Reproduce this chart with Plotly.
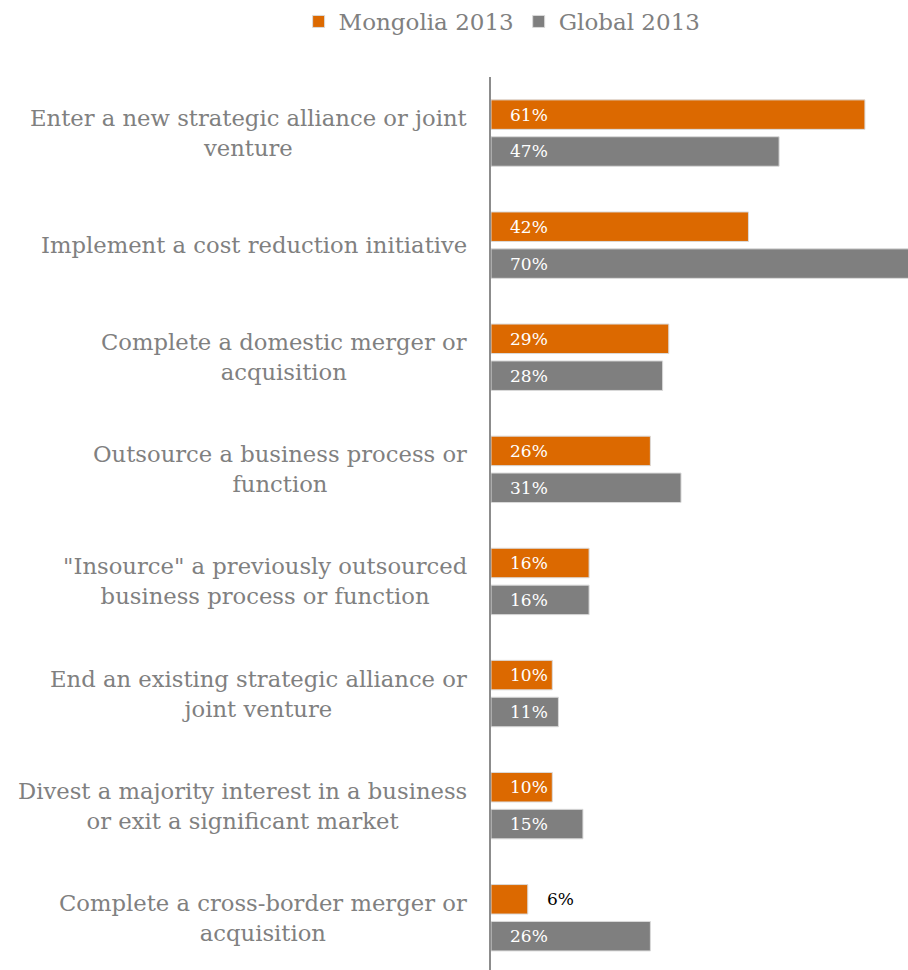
import plotly.graph_objects as go

# Survey: planned restructuring activities, Mongolia vs global CEOs
categories = [
    "Enter a new strategic alliance or joint<br>venture",
    "Implement a cost reduction initiative",
    "Complete a domestic merger or<br>acquisition",
    "Outsource a business process or<br>function",
    "\"Insource\" a previously outsourced<br>business process or function",
    "End an existing strategic alliance or<br>joint venture",
    "Divest a majority interest in a business<br>or exit a significant market",
    "Complete a cross-border merger or<br>acquisition",
]
mongolia_2013 = [61, 42, 29, 26, 16, 10, 10, 6]
global_2013 = [47, 70, 28, 31, 16, 11, 15, 26]
series_names = ["Mongolia 2013", "Global 2013"]

ORANGE = "#DC6900"
GREY = "#7F7F7F"
TEXT_GREY = "#808080"
FONT = "DejaVu Serif"

W, H = 908, 970
LEFT, TOP = 491, 77
BARGAP, GROUPGAP = 0.342, 0.2
STEP_PX = 112.1

pos = list(range(len(categories)))
y_span = (H - TOP) / STEP_PX
x_max = (W - LEFT) / 6.13

fig = go.Figure()
for name, vals, col in [(series_names[0], mongolia_2013, ORANGE),
                        (series_names[1], global_2013, GREY)]:
    fig.add_trace(go.Bar(
        name=name, x=vals, y=pos, orientation="h",
        marker=dict(color=col, line=dict(color="#DADADA", width=1)),
        hoverinfo="skip",
    ))

# value labels placed just inside the start of each bar
slot = (1 - BARGAP) / 2
annotations = []
for k, vals in enumerate([mongolia_2013, global_2013]):
    off = -slot / 2 if k == 0 else slot / 2
    for i, v in enumerate(vals):
        small = v < 8
        annotations.append(dict(
            x=v if small else 0, y=i + off, xref="x", yref="y",
            text=f"{v}%", showarrow=False, xanchor="left", yanchor="middle",
            xshift=17,
            font=dict(family=FONT, size=17, color="#000000" if small else "#FFFFFF"),
        ))

# category labels, centred text block right-aligned against the axis
for i, c in enumerate(categories):
    annotations.append(dict(
        x=0, y=i, xref="paper", yref="y", text=c, showarrow=False,
        xanchor="right", yanchor="middle", align="center", xshift=-22,
        font=dict(family=FONT, size=22.7, color=TEXT_GREY),
    ))

fig.update_layout(
    width=W, height=H,
    margin=dict(l=LEFT, r=0, t=TOP, b=0),
    paper_bgcolor="white", plot_bgcolor="white",
    barmode="group", bargap=BARGAP, bargroupgap=GROUPGAP,
    showlegend=True,
    legend=dict(
        orientation="h", xref="container", yref="container",
        x=0.553, xanchor="center", y=1.0, yanchor="top",
        font=dict(family=FONT, size=23, color=TEXT_GREY),
        itemwidth=30, tracegroupgap=0,
    ),
    xaxis=dict(range=[0, x_max], showgrid=False, zeroline=False,
               showticklabels=False, showline=False, fixedrange=True),
    yaxis=dict(range=[-0.5 + y_span, -0.5], showgrid=False, zeroline=False,
               showticklabels=False, showline=True, linecolor="#8C8C8C",
               linewidth=2, ticks=""),
    annotations=annotations,
)

fig.write_html("out.html")
